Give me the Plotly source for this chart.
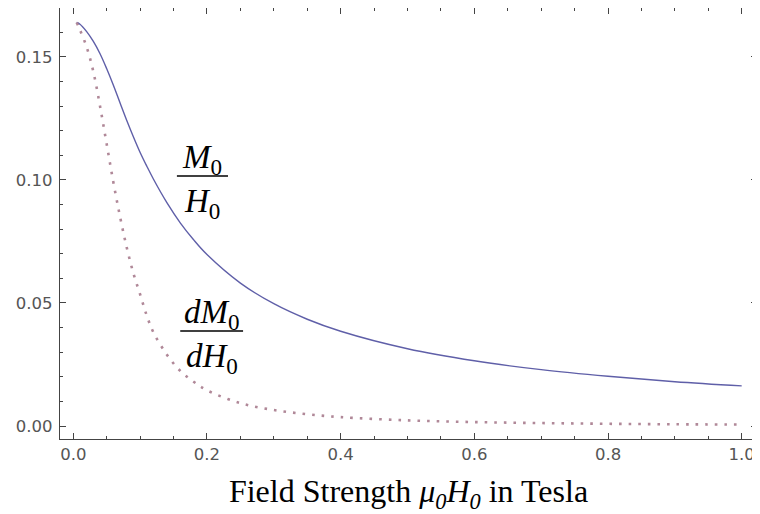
import plotly.graph_objects as go

# Field strength mu0*H0 in Tesla
field = [0.005, 0.01, 0.02, 0.03, 0.04, 0.05, 0.06, 0.07, 0.08, 0.09, 0.10, 0.11, 0.12,
         0.14, 0.16, 0.18, 0.20, 0.25, 0.30, 0.35, 0.40, 0.50, 0.60, 0.70, 0.80, 0.90, 1.00]

# M0/H0 (solid blue)
m_over_h = [0.164, 0.1633, 0.1603, 0.1563, 0.1513, 0.1452, 0.1385, 0.1313, 0.1242, 0.1175, 0.1112,
            0.1056, 0.1003, 0.0908, 0.0826, 0.0757, 0.0697, 0.0581, 0.0497, 0.0434, 0.0385,
            0.0314, 0.0265, 0.0229, 0.0202, 0.0180, 0.0163]

# dM0/dH0 (dotted red)
dm_dh = [0.164, 0.161, 0.154, 0.144, 0.130, 0.1145, 0.0990, 0.0850, 0.0725, 0.0620, 0.0535,
         0.0448, 0.0380, 0.0290, 0.0224, 0.0180, 0.0145, 0.0093, 0.0065, 0.0048, 0.0036,
         0.0023, 0.0016, 0.0012, 0.0009, 0.0007, 0.0006]

x_ticks = [0.0, 0.2, 0.4, 0.6, 0.8, 1.0]
x_tick_labels = ["0.0", "0.2", "0.4", "0.6", "0.8", "1.0"]
y_ticks = [0.00, 0.05, 0.10, 0.15]
y_tick_labels = ["0.00", "0.05", "0.10", "0.15"]

fig = go.Figure()
fig.add_trace(go.Scatter(x=field, y=m_over_h, mode="lines", line=dict(color="#5f5fa8", width=1.4, shape="spline"),
                         hoverinfo="skip", showlegend=False))
fig.add_trace(go.Scatter(x=field, y=dm_dh, mode="lines",
                         line=dict(color="#b08898", width=2.6, dash="2.6px,7px", shape="spline"),
                         hoverinfo="skip", showlegend=False))

axis_common = dict(showline=True, mirror="ticks", linecolor="#444444", linewidth=1.2,
                   ticks="inside", ticklen=6, tickcolor="#444444", tickwidth=1,
                   showgrid=False, zeroline=False, automargin=False,
                   tickfont=dict(family="DejaVu Sans", size=16.5, color="#555555"))

fig.update_xaxes(range=[-0.0199, 1.0229], tickvals=x_ticks, ticktext=x_tick_labels,
                 minor=dict(dtick=0.05, tick0=0, ticks="inside", ticklen=3, tickcolor="#444444", showgrid=False),
                 title=dict(text="Field Strength <i>μ</i><sub><i>0</i></sub><i>H</i><sub><i>0</i></sub> in Tesla",
                            font=dict(family="Liberation Serif", size=32, color="black"), standoff=19),
                 **axis_common)
fig.update_yaxes(range=[-0.00528, 0.1699], tickvals=y_ticks, ticktext=y_tick_labels,
                 minor=dict(dtick=0.01, tick0=0, ticks="inside", ticklen=3, tickcolor="#444444", showgrid=False),
                 ticklabelstandoff=3,
                 **axis_common)

frac_font = dict(family="Liberation Serif", size=33, color="black")
# M0/H0 label
fig.add_annotation(x=0.193, y=0.1016, xref="x", yref="y", text="<i>M</i><sub>0</sub>", showarrow=False,
                   xanchor="center", yanchor="bottom", yshift=-6, font=frac_font)
fig.add_annotation(x=0.193, y=0.0996, xref="x", yref="y", text="<i>H</i><sub>0</sub>", showarrow=False,
                   xanchor="center", yanchor="top", font=frac_font)
fig.add_shape(type="line", xref="x", yref="y", x0=0.155, x1=0.2315, y0=0.1016, y1=0.1016,
              line=dict(color="black", width=1.5))
# dM0/dH0 label
fig.add_annotation(x=0.207, y=0.0386, xref="x", yref="y", text="<i>dM</i><sub>0</sub>", showarrow=False,
                   xanchor="center", yanchor="bottom", yshift=-6, font=frac_font)
fig.add_annotation(x=0.207, y=0.0366, xref="x", yref="y", text="<i>dH</i><sub>0</sub>", showarrow=False,
                   xanchor="center", yanchor="top", font=frac_font)
fig.add_shape(type="line", xref="x", yref="y", x0=0.160, x1=0.254, y0=0.0386, y1=0.0386,
              line=dict(color="black", width=1.5))

# page body has an 8px default margin, so the figure is sized to fill the remaining window
fig.update_layout(width=752, height=506, margin=dict(l=52, r=3, t=0, b=75),
                  plot_bgcolor="white", paper_bgcolor="white")

fig.write_html("out.html")
